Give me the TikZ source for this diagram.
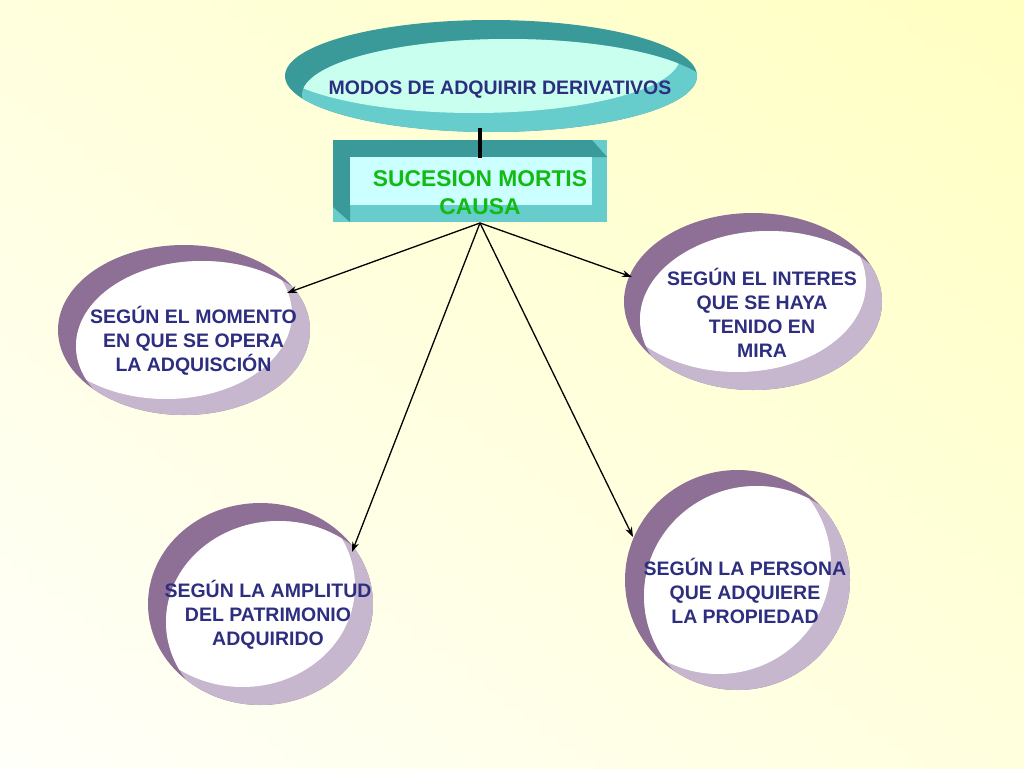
\documentclass[tikz,border=0pt]{standalone}
\usepackage{fontspec}
\setmainfont{Liberation Sans}
\usetikzlibrary{arrows.meta}
\definecolor{bgA}{HTML}{FFFFFA}
\definecolor{bgB}{HTML}{FFFFC2}
\definecolor{tealD}{HTML}{3A9A9A}
\definecolor{tealL}{HTML}{66CCCC}
\definecolor{tealP}{HTML}{C8FFEE}
\definecolor{boxP}{HTML}{CCFFFF}
\definecolor{purD}{HTML}{8E7096}
\definecolor{purL}{HTML}{C6B6CE}
\definecolor{navy}{HTML}{2E2E80}
\definecolor{grn}{HTML}{11BB11}
% 3-D ring: #1 cx, #2 cy, #3 x radius, #4 y radius, #5 vx, #6 vy, #7 dark, #8 light, #9 inner
\newcommand\threedring[9]{%
  \begin{scope}
    \fill[#7] (#1,#2) ellipse [x radius=#3pt, y radius=#4pt];
    \clip (#1,#2) ellipse [x radius=#3pt, y radius=#4pt];
    \fill[#8] (#1+#5,#2+#6) ellipse [x radius=#3pt, y radius=#4pt];
  \end{scope}
  \begin{scope}
    \clip (#1+#5,#2+#6) ellipse [x radius=#3pt, y radius=#4pt];
    \fill[#9] (#1-#5,#2-#6) ellipse [x radius=#3pt, y radius=#4pt];
  \end{scope}}
\begin{document}
\begin{tikzpicture}[x=1pt,y=-1pt,
  ringtxt/.style={font=\bfseries\fontsize{19.5}{24}\selectfont, text=navy, align=center, inner sep=0pt},
  link/.style={-{Stealth[length=10pt,width=7pt]}, line width=1.3pt, black}]
% background
\shade[left color=bgA, right color=bgB] (0,0) rectangle (1024,768);
\shade[top color=bgB, bottom color=bgA, fill opacity=0.5] (0,0) rectangle (1024,768);
\useasboundingbox (0,0) rectangle (1024,768);

% top ellipse
\threedring{491}{76}{206}{56}{17}{19}{tealD}{tealL}{tealP}
\node[font=\bfseries\fontsize{19.5}{24}\selectfont, text=navy, inner sep=0pt, anchor=base] (title) at (500,94) {MODOS DE ADQUIRIR DERIVATIVOS};

% box
\fill[tealL] (333,140) rectangle (607,222);
\fill[tealD] (333,140) -- (592,140) -- (607,157) -- (350,157) -- (350,222) -- (333,207) -- cycle;
\fill[boxP] (350,157) rectangle (592,205);
\node[font=\bfseries\fontsize{22.8}{28}\selectfont, text=grn, align=center, inner sep=0pt] (smc) at (480,193) {SUCESION MORTIS\\CAUSA};

% connector title -> box
\coordinate (tbot) at (480,128);
\coordinate (btop) at (480,158);
\draw[line width=4pt] (tbot) -- (btop);

% rings
\threedring{184}{330}{126}{85}{18}{16}{purD}{purL}{white}
\node[ringtxt] (t1) at (193.5,341) {SEGÚN EL MOMENTO\\EN QUE SE OPERA\\LA ADQUISCIÓN};

\threedring{753}{301.5}{129}{88.5}{16}{18}{purD}{purL}{white}
\node[ringtxt] (t2) at (762,313) {SEGÚN EL INTERES\\QUE SE HAYA\\TENIDO EN\\MIRA};

\threedring{260.5}{604}{112.5}{101}{18}{18}{purD}{purL}{white}
\node[ringtxt] (t3) at (268,615) {SEGÚN LA AMPLITUD\\DEL PATRIMONIO\\ADQUIRIDO};

\threedring{737.5}{580}{112.5}{110}{19}{16}{purD}{purL}{white}
\node[ringtxt] (t4) at (745,591) {SEGÚN LA PERSONA\\QUE ADQUIERE\\LA PROPIEDAD};

% arrows
\coordinate (src) at (480,223);
\coordinate (e1) at (287,293);
\coordinate (e2) at (632,277);
\coordinate (e3) at (352,552);
\coordinate (e4) at (633,537);
\draw[link] (src) -- (e1);
\draw[link] (src) -- (e2);
\draw[link] (src) -- (e3);
\draw[link] (src) -- (e4);
\end{tikzpicture}
\end{document}
